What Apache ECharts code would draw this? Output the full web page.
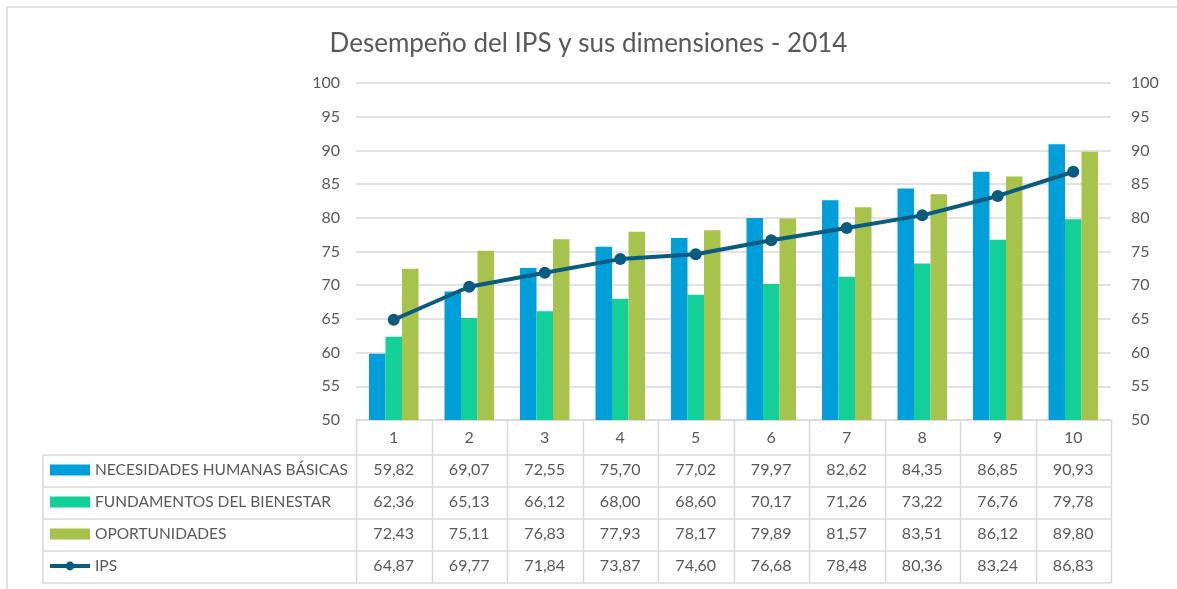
<!DOCTYPE html>
<html>
<head>
<meta charset="utf-8">
<script src="https://cdn.jsdelivr.net/npm/echarts@6/dist/echarts.min.js"></script>
<style>
  html, body { margin: 0; padding: 0; background: #fff; }
  #chart { width: 1177px; height: 589px; }
</style>
</head>
<body>
<div id="chart"></div>
<script>
// data
const categories = ["1", "2", "3", "4", "5", "6", "7", "8", "9", "10"];
const seriesNames = ["NECESIDADES HUMANAS BÁSICAS", "FUNDAMENTOS DEL BIENESTAR", "OPORTUNIDADES", "IPS"];
const necesidades = [59.82, 69.07, 72.55, 75.70, 77.02, 79.97, 82.62, 84.35, 86.85, 90.93];
const fundamentos = [62.36, 65.13, 66.12, 68.00, 68.60, 70.17, 71.26, 73.22, 76.76, 79.78];
const oportunidades = [72.43, 75.11, 76.83, 77.93, 78.17, 79.89, 81.57, 83.51, 86.12, 89.80];
const ips = [64.87, 69.77, 71.84, 73.87, 74.60, 76.68, 78.48, 80.36, 83.24, 86.83];
const yMin = 50, yMax = 100, yStep = 5;

const W = 1177, H = 589;
const plotLeft = 356, plotRight = 1111, plotTop = 83, plotBottom = 420;
const tableLeft = 43;
const rowLines = [455, 487, 519, 551, 583];
const font = "Lato, 'Open Sans', sans-serif";
const textColor = "#595959";
const lineColor = "#d9d9d9";

const fmt = v => v.toFixed(2).replace(".", ",");

const chart = echarts.init(document.getElementById("chart"));

// table rows as extra category axes under the plot
const rowData = [necesidades, fundamentos, oportunidades, ips];
const rowOffsets = [33, 65, 97, 129];
const rowAxes = rowData.map((arr, i) => ({
  type: "category",
  data: arr.map(fmt),
  position: "bottom",
  offset: rowOffsets[i],
  axisLine: { show: false },
  axisTick: { show: false },
  axisLabel: { color: textColor, fontSize: 16, fontFamily: font, margin: 9, interval: 0 },
}));

// table grid lines
const graphics = [];
const colW = (plotRight - plotLeft) / categories.length;
rowLines.forEach(y => {
  graphics.push({ type: "line", shape: { x1: tableLeft, y1: y, x2: plotRight, y2: y },
    style: { stroke: lineColor, lineWidth: 1.5 }, silent: true });
});
graphics.push({ type: "line", shape: { x1: tableLeft, y1: rowLines[0], x2: tableLeft, y2: rowLines[rowLines.length - 1] },
  style: { stroke: lineColor, lineWidth: 1.5 }, silent: true });
for (let i = 0; i <= categories.length; i++) {
  const x = Math.round(plotLeft + i * colW) + 0.5;
  graphics.push({ type: "line", shape: { x1: x, y1: plotBottom, x2: x, y2: rowLines[rowLines.length - 1] },
    style: { stroke: lineColor, lineWidth: 1.5 }, silent: true });
}
// outer chart border (top and left only visible)
graphics.push({ type: "line", shape: { x1: 7, y1: 7, x2: W, y2: 7 }, style: { stroke: lineColor, lineWidth: 1.5 }, silent: true });
graphics.push({ type: "line", shape: { x1: 7, y1: 7, x2: 7, y2: H }, style: { stroke: lineColor, lineWidth: 1.5 }, silent: true });

const option = {
  backgroundColor: "#fff",
  animation: false,
  title: {
    text: "Desempeño del IPS y sus dimensiones - 2014",
    left: "center",
    top: 26,
    textStyle: { color: textColor, fontSize: 26, fontWeight: "normal", fontFamily: font },
  },
  legend: {
    orient: "vertical",
    left: 43,
    top: 455,
    itemGap: 12,
    itemWidth: 40,
    itemHeight: 11,
    data: [
      { name: seriesNames[0], icon: "rect" },
      { name: seriesNames[1], icon: "rect" },
      { name: seriesNames[2], icon: "rect" },
      { name: seriesNames[3], lineStyle: { width: 4 } },
    ],
    textStyle: { color: textColor, fontSize: 15.5, fontFamily: font, lineHeight: 20 },
    selectedMode: false,
  },
  grid: { left: plotLeft, right: W - plotRight, top: plotTop, bottom: H - plotBottom, containLabel: false },
  xAxis: [
    {
      type: "category",
      data: categories,
      axisLine: { show: true, lineStyle: { color: lineColor, width: 1.5 } },
      axisTick: { show: false },
      axisLabel: { color: textColor, fontSize: 16, fontFamily: font, margin: 10, interval: 0 },
    },
  ].concat(rowAxes),
  yAxis: [
    {
      type: "value", min: yMin, max: yMax, interval: yStep,
      axisLine: { show: false }, axisTick: { show: false },
      axisLabel: { color: textColor, fontSize: 16, fontFamily: font, margin: 16 },
      splitLine: { lineStyle: { color: lineColor, width: 1.5 } },
    },
    {
      type: "value", min: yMin, max: yMax, interval: yStep, position: "right",
      axisLine: { show: false }, axisTick: { show: false },
      axisLabel: { color: textColor, fontSize: 16, fontFamily: font, margin: 20 },
      splitLine: { show: false },
    },
  ],
  series: [
    { name: seriesNames[0], type: "bar", data: necesidades, barWidth: 16.5, barGap: "0%", itemStyle: { color: "#019fda" } },
    { name: seriesNames[1], type: "bar", data: fundamentos, barWidth: 16.5, barGap: "0%", itemStyle: { color: "#13cf98" } },
    { name: seriesNames[2], type: "bar", data: oportunidades, barWidth: 16.5, barGap: "0%", itemStyle: { color: "#a7c34b" } },
    {
      name: seriesNames[3], type: "line", data: ips,
      symbol: "circle", symbolSize: 12,
      lineStyle: { color: "#0a5b80", width: 4 },
      itemStyle: { color: "#0a5b80" },
      z: 5,
    },
  ],
  graphic: graphics,
};

chart.setOption(option);
</script>
</body>
</html>
